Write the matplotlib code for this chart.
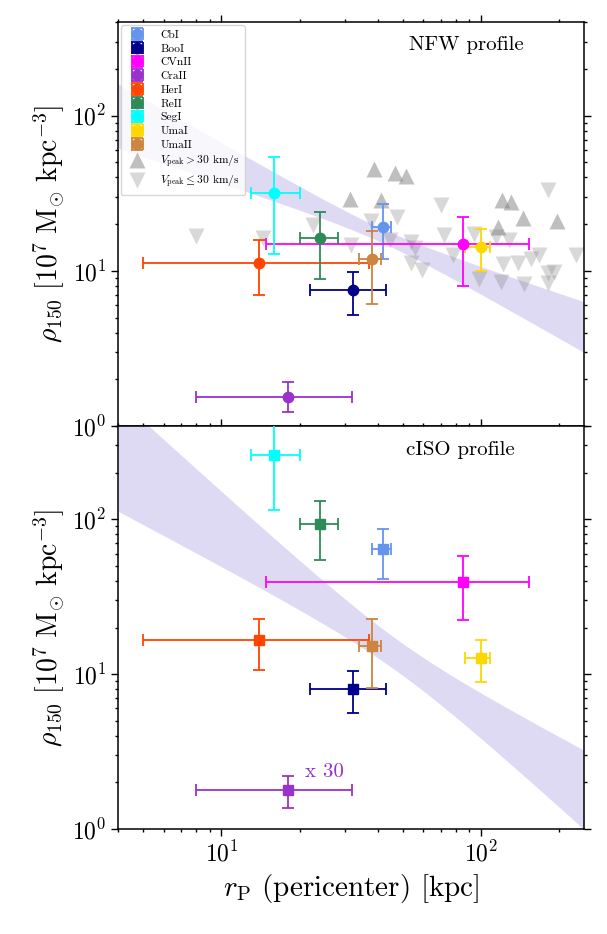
import numpy as np
import matplotlib as mpl
import matplotlib.pyplot as plt

mpl.rcParams.update({
    "font.family": ["cmr10", "DejaVu Serif"],
    "mathtext.fontset": "cm",
    "axes.formatter.use_mathtext": True,
    "axes.unicode_minus": False,
    "xtick.direction": "out",
    "ytick.direction": "out",
    "xtick.top": True,
    "ytick.right": True,
    "xtick.major.size": 5,
    "ytick.major.size": 5,
    "xtick.minor.size": 2.5,
    "ytick.minor.size": 2.5,
    "axes.linewidth": 1.1,
})

# satellites: pericenter and errors (kpc)
names = ["CbI", "BooI", "CVnII", "CraII", "HerI", "ReII", "SegI", "UmaI", "UmaII"]
colors = ["cornflowerblue", "darkblue", "magenta", "darkorchid", "orangered",
          "seagreen", "cyan", "gold", "peru"]
rp = [42.0, 32.1, 85.4, 18.0, 14.0, 24.0, 16.0, 100.0, 38.2]
rp_lo = [38.1, 22.0, 14.9, 8.0, 4.99, 20.0, 13.0, 87.3, 34.0]
rp_hi = [45.2, 43.2, 153.0, 32.0, 37.1, 28.2, 20.1, 108.7, 41.1]

# rho_150 NFW (1e7 Msun/kpc^3)
rho_nfw = [19.2, 7.52, 15.0, 1.545, 11.2, 16.2, 31.9, 14.3, 12.0]
rho_nfw_lo = [11.9, 5.19, 7.98, 1.236, 6.95, 8.85, 12.8, 9.93, 6.14]
rho_nfw_hi = [26.8, 9.78, 22.3, 1.91, 15.7, 23.9, 54.3, 18.6, 18.1]

# rho_150 cISO (CraII shown x 30)
rho_iso = [64.2, 8.05, 39.1, 1.78, 16.7, 93.0, 261.0, 12.7, 15.3]
rho_iso_lo = [41.3, 5.61, 22.2, 1.37, 10.6, 54.8, 114.5, 8.84, 8.12]
rho_iso_hi = [86.7, 10.4, 57.5, 2.20, 22.7, 132.0, 600.0, 16.6, 22.7]

# subhalos from simulations
up_r = [38.9, 46.5, 51.5, 31.4, 41.4, 121, 131, 146, 197, 116.7]
up_rho = [45.3, 42.5, 40.8, 29.2, 28.6, 28.6, 27.8, 22.0, 21.0, 19.2]
dn_r = [7.95, 14.4, 22.6, 31.6, 37.8, 47.6, 44.8, 53.6, 56.0, 53.6, 59.5, 70.3,
        72.1, 78.4, 94.2, 98.5, 114.3, 121.3, 119.6, 128.7, 139.4, 146.3, 156.2,
        167.2, 181.7, 181.7, 192.2, 181.2, 233.2]
dn_rho = [16.8, 16.4, 19.7, 14.6, 21.1, 22.3, 15.8, 15.4, 14.0, 11.2, 10.1, 26.5,
          17.0, 12.6, 17.4, 8.85, 16.6, 11.1, 8.5, 15.8, 11.2, 8.22, 11.9,
          12.6, 33.2, 9.68, 9.82, 8.41, 12.6]

# power-law fits: log rho = a + b (log r - log r_piv), with 1-sigma errors
fit_nfw = dict(a=1.232, b=-0.757, logr_piv=1.613, sa=0.045, sb=0.20)
fit_iso = dict(a=1.119, b=-1.204, logr_piv=1.679, sa=0.103, sb=0.325)

XLIM = (4, 250)
YLIM = (1, 400)
BAND = "#6a5acd"

fig = plt.figure(figsize=(6.07, 9.34), dpi=100)
ax1 = fig.add_axes([0.1949, 0.5439, 0.7671, 0.4322])
ax2 = fig.add_axes([0.1949, 0.1124, 0.7671, 0.4315])


def draw_band(ax, fit):
    logr = np.linspace(np.log10(XLIM[0]), np.log10(XLIM[1]), 200)
    d = logr - fit["logr_piv"]
    mid = fit["a"] + fit["b"] * d
    hw = np.sqrt(fit["sa"] ** 2 + (fit["sb"] * d) ** 2)
    ax.fill_between(10 ** logr, 10 ** (mid - hw), 10 ** (mid + hw),
                    color=BAND, alpha=0.22, lw=0, zorder=0)


def draw_points(ax, rho, lo, hi, marker, labels=True):
    for i in range(len(names)):
        xerr = [[rp[i] - rp_lo[i]], [rp_hi[i] - rp[i]]]
        yerr = [[rho[i] - lo[i]], [hi[i] - rho[i]]]
        ax.errorbar([rp[i]], [rho[i]], xerr=xerr, yerr=yerr, fmt=marker,
                    color=colors[i], ms=7.5, elinewidth=1.3, capsize=4.5,
                    capthick=1.3, label=names[i] if labels else None, zorder=3)


for ax in (ax1, ax2):
    ax.set_xscale("log")
    ax.set_yscale("log")
    ax.set_xlim(*XLIM)
    ax.set_ylim(*YLIM)
    ax.tick_params(which="both", labelsize=17, width=1)
    ax.set_ylabel(r"$\rho_{150}\ [10^7\ \mathrm{M}_{\odot}\ \mathrm{kpc}^{-3}]$",
                  fontsize=20)

# top panel: NFW
draw_band(ax1, fit_nfw)
draw_points(ax1, rho_nfw, rho_nfw_lo, rho_nfw_hi, "o")
ax1.plot(up_r, up_rho, "^", color="gray", alpha=0.5, ms=11, mec="none",
         label=r"$V_{\rm peak} > 30$ km/s", zorder=2)
ax1.plot(dn_r, dn_rho, "v", color="gray", alpha=0.3, ms=11, mec="none",
         label=r"$V_{\rm peak} \leq 30$ km/s", zorder=2)
ax1.tick_params(labelbottom=False)
ax1.text(0.87, 0.945, "NFW profile", transform=ax1.transAxes, ha="right",
         va="center", fontsize=15)

handles, labels = ax1.get_legend_handles_labels()
order = [labels.index(n) for n in names] + [0, 1]
ax1.legend([handles[i] for i in order], [labels[i] for i in order],
           loc="upper left", prop={"size": 8.3}, handlelength=2.0,
           labelspacing=0.32, borderpad=0.4, framealpha=0.8,
           borderaxespad=0.25, handletextpad=1.0)

# bottom panel: cISO
draw_band(ax2, fit_iso)
draw_points(ax2, rho_iso, rho_iso_lo, rho_iso_hi, "s", labels=False)
ax2.text(21.0, 2.33, "x 30", color="darkorchid", fontsize=15, ha="left",
         va="center")
ax2.text(0.852, 0.940, "cISO profile", transform=ax2.transAxes, ha="right",
         va="center", fontsize=15)
ax2.set_xlabel(r"$r_{\rm P}$ (pericenter) [kpc]", fontsize=21)

fig.savefig("out.png", dpi=100)
